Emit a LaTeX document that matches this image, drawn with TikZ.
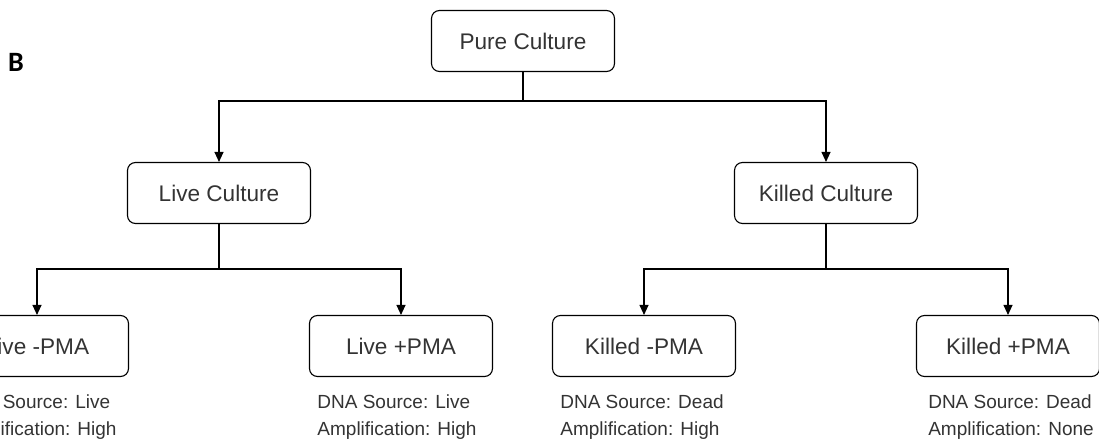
\documentclass[tikz,border=0pt]{standalone}
\usepackage{fontspec}
\setmainfont{Liberation Sans}
\newfontfamily\labelfont{Carlito}
\usetikzlibrary{positioning, arrows.meta, calc}

\definecolor{boxtext}{HTML}{333333}
\tikzset{
    box/.style={draw, rounded corners=8pt, line width=1.1pt, minimum width=183pt,
        minimum height=61pt, text=boxtext, font=\fontsize{22.6}{26}\selectfont},
    info/.style={text=boxtext, align=left, inner sep=0pt,
        font=\fontsize{19}{27}\selectfont},
    arr/.style={line width=1.1pt, -{Triangle[width=9pt,length=10pt]}}
}

\begin{document}
\begin{tikzpicture}[x=1pt, y=-1pt]

    \useasboundingbox (0,0) rectangle (1099,443);
    \clip (0,0) rectangle (1099,443);

    %Label
    \node[font=\labelfont\bfseries\fontsize{28}{30}\selectfont, anchor=west, inner sep=0pt] (lab) at (8,62) {B};

    %Boxes
    \node[box] (pure) at (523,41) {Pure Culture};
    \node[box] (live) at (219,193) {Live Culture};
    \node[box] (killed) at (826,193) {Killed Culture};
    \node[box] (lminus) at (37,346) {Live -PMA};
    \node[box] (lplus) at (401,346) {Live +PMA};
    \node[box] (kminus) at (644,346) {Killed -PMA};
    \node[box] (kplus) at (1008,346) {Killed +PMA};

    %Results
    \node[info] (lminusinfo) at (37,417) {DNA Source: Live\\Amplification: High};
    \node[info] (lplusinfo) at (397,417) {DNA Source: Live\\Amplification: High};
    \node[info] (kminusinfo) at (642,417) {DNA Source: Dead\\Amplification: High};
    \node[info] (kplusinfo) at (1011,417) {DNA Source: Dead\\Amplification: None};

    %Lines
    \draw[arr] (pure.south) -- ++(0,29) -| (live.north);
    \draw[arr] (pure.south) -- ++(0,29) -| (killed.north);
    \draw[arr] (live.south) -- ++(0,45) -| (lminus.north);
    \draw[arr] (live.south) -- ++(0,45) -| (lplus.north);
    \draw[arr] (killed.south) -- ++(0,45) -| (kminus.north);
    \draw[arr] (killed.south) -- ++(0,45) -| (kplus.north);
\end{tikzpicture}
\end{document}
